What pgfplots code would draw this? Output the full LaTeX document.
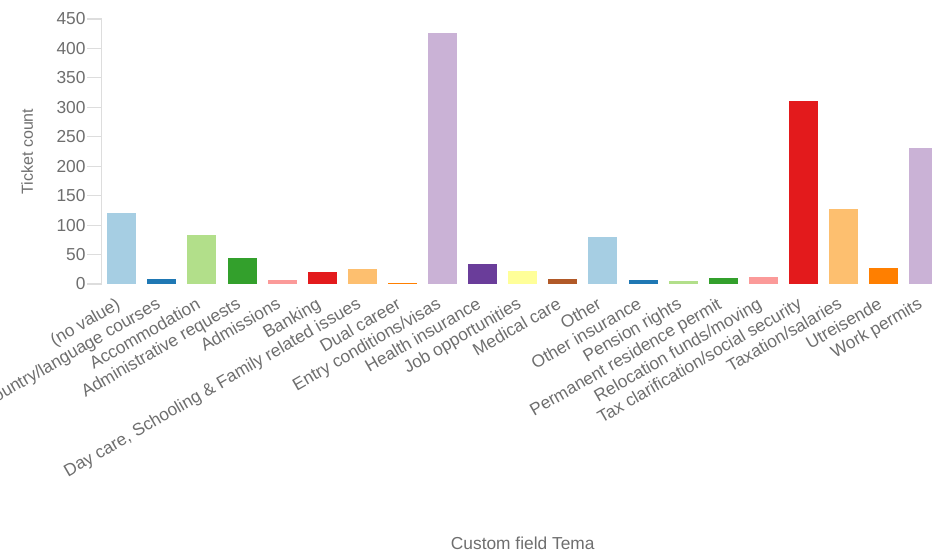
\documentclass[border=0pt]{standalone}
\usepackage{fontspec}
\setmainfont{Liberation Sans}
\usepackage{pgfplots}
\pgfplotsset{compat=1.18}

\definecolor{p1}{HTML}{A6CEE3}
\definecolor{p2}{HTML}{1F78B4}
\definecolor{p3}{HTML}{B2DF8A}
\definecolor{p4}{HTML}{33A02C}
\definecolor{p5}{HTML}{FB9A99}
\definecolor{p6}{HTML}{E31A1C}
\definecolor{p7}{HTML}{FDBF6F}
\definecolor{p8}{HTML}{FF7F00}
\definecolor{p9}{HTML}{CAB2D6}
\definecolor{p10}{HTML}{6A3D9A}
\definecolor{p11}{HTML}{FFFF99}
\definecolor{p12}{HTML}{B15928}
\definecolor{txt}{HTML}{6E6E6E}
\definecolor{axl}{HTML}{DDDDDD}

\pgfplotsset{bb/.style={ybar, bar width=21.75pt, bar shift=0pt, draw=none, fill=#1}}

\begin{document}
\begin{tikzpicture}
\begin{axis}[
    name=ax,
    scale only axis,
    width=631.5pt, height=198.75pt,
    xmin=-0.5, xmax=20.5,
    ymin=0, ymax=450,
    ytick={0,50,...,450},
    xtick={0,...,20},
    xticklabels={(no value), Country/language courses, Accommodation,
        Administrative requests, Admissions, Banking,
        {Day care, Schooling \& Family related issues}, Dual career,
        Entry conditions/visas, Health insurance, Job opportunities,
        Medical care, Other, Other insurance, Pension rights,
        Permanent residence permit, Relocation funds/moving,
        Tax clarification/social security, Taxation/salaries,
        Utreisende, Work permits},
    axis y line*=left,
    axis x line*=bottom,
    x axis line style={draw=none},
    y axis line style={draw=axl, line width=0.8pt},
    major x tick style={draw=none},
    major y tick style={draw=axl, line width=0.8pt},
    tick align=outside,
    major tick length=11pt,
    /pgf/number format/assume math mode=true,
    yticklabel style={font=\fontsize{13}{15}\selectfont, text=txt, inner sep=1pt},
    xticklabel style={font=\fontsize{13}{15}\selectfont, text=txt, rotate=30,
        anchor=north east, inner sep=0pt, xshift=-3.5pt, yshift=4pt},
    ylabel={Ticket count},
    ylabel style={font=\fontsize{12}{14}\selectfont, text=txt,
        at={(axis description cs:-0.0887,0.5)}, anchor=center},
    xlabel={Custom field Tema},
    xlabel style={font=\fontsize{13}{15}\selectfont, text=txt,
        at={(axis description cs:0.5,-0.977)}, anchor=center},
]
\addplot[bb=p1]  coordinates {(0,120)};
\addplot[bb=p2]  coordinates {(1,9)};
\addplot[bb=p3]  coordinates {(2,83)};
\addplot[bb=p4]  coordinates {(3,45)};
\addplot[bb=p5]  coordinates {(4,6)};
\addplot[bb=p6]  coordinates {(5,20)};
\addplot[bb=p7]  coordinates {(6,25)};
\addplot[bb=p8]  coordinates {(7,1)};
\addplot[bb=p9]  coordinates {(8,427)};
\addplot[bb=p10] coordinates {(9,34)};
\addplot[bb=p11] coordinates {(10,22)};
\addplot[bb=p12] coordinates {(11,8)};
\addplot[bb=p1]  coordinates {(12,79)};
\addplot[bb=p2]  coordinates {(13,7)};
\addplot[bb=p3]  coordinates {(14,5)};
\addplot[bb=p4]  coordinates {(15,11)};
\addplot[bb=p5]  coordinates {(16,12)};
\addplot[bb=p6]  coordinates {(17,311)};
\addplot[bb=p7]  coordinates {(18,128)};
\addplot[bb=p8]  coordinates {(19,28)};
\addplot[bb=p9]  coordinates {(20,231)};
\end{axis}
\pgfresetboundingbox
\path[use as bounding box] ([xshift=-76.3pt,yshift=-199.5pt]ax.south west)
    rectangle ([xshift=622.7pt,yshift=14.25pt]ax.north west);
\end{tikzpicture}
\end{document}
